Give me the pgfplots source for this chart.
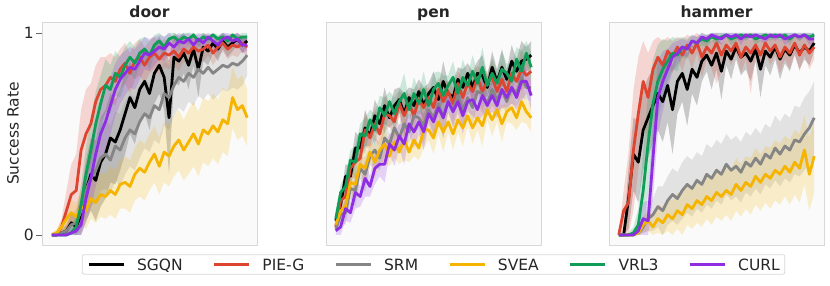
\documentclass[border=0pt]{standalone}
\usepackage{fontspec}
\setmainfont{DejaVu Sans}
\usepackage{pgfplots}
\pgfplotsset{compat=1.18}
\usepackage{pgfplotstable}
\usepgfplotslibrary{fillbetween}

\definecolor{cSGQN}{HTML}{000000}
\definecolor{cPIE}{HTML}{DE4530}
\definecolor{cSRM}{HTML}{858585}
\definecolor{cSVEA}{HTML}{F5B400}
\definecolor{cVRL}{HTML}{0F9D58}
\definecolor{cCURL}{HTML}{8E2DE2}
\definecolor{txt}{HTML}{262626}
\definecolor{frame}{HTML}{D8D8D8}
\definecolor{bg}{HTML}{FAFAFA}

\pgfplotstableread{
i a as b bs c cs d ds e es f fs
0 0.00 0.00 0.00 0.01 0.00 0.00 0.00 0.01 0.00 0.00 0.00 0.00
1 0.00 0.00 0.00 0.02 0.00 0.01 0.01 0.02 0.00 0.00 0.00 0.00
2 0.01 0.01 0.04 0.04 0.01 0.02 0.04 0.03 0.00 0.01 0.00 0.01
3 0.02 0.03 0.12 0.10 0.02 0.03 0.08 0.05 0.00 0.02 0.00 0.01
4 0.06 0.05 0.20 0.15 0.05 0.05 0.11 0.06 0.01 0.03 0.01 0.02
5 0.04 0.06 0.22 0.18 0.06 0.07 0.09 0.07 0.04 0.06 0.02 0.04
6 0.10 0.10 0.42 0.20 0.12 0.10 0.14 0.08 0.15 0.10 0.05 0.07
7 0.22 0.15 0.50 0.22 0.22 0.12 0.12 0.09 0.30 0.14 0.18 0.12
8 0.30 0.18 0.55 0.20 0.28 0.14 0.18 0.10 0.42 0.16 0.28 0.15
9 0.27 0.20 0.66 0.18 0.32 0.15 0.16 0.10 0.55 0.16 0.40 0.16
10 0.36 0.22 0.72 0.16 0.38 0.16 0.20 0.11 0.65 0.14 0.50 0.16
11 0.40 0.22 0.74 0.14 0.40 0.17 0.19 0.11 0.74 0.13 0.56 0.15
12 0.48 0.22 0.78 0.12 0.37 0.17 0.22 0.12 0.72 0.12 0.64 0.14
13 0.46 0.21 0.76 0.12 0.44 0.17 0.20 0.12 0.80 0.11 0.72 0.13
14 0.52 0.20 0.82 0.10 0.42 0.18 0.25 0.12 0.78 0.10 0.77 0.12
15 0.60 0.20 0.85 0.10 0.48 0.18 0.26 0.13 0.84 0.09 0.80 0.11
16 0.68 0.18 0.80 0.10 0.52 0.18 0.24 0.13 0.88 0.08 0.83 0.10
17 0.63 0.18 0.86 0.09 0.50 0.18 0.30 0.13 0.85 0.08 0.82 0.10
18 0.72 0.17 0.88 0.09 0.56 0.18 0.33 0.14 0.90 0.07 0.86 0.09
19 0.76 0.16 0.84 0.09 0.60 0.17 0.31 0.14 0.92 0.06 0.90 0.08
20 0.70 0.18 0.88 0.08 0.58 0.17 0.36 0.14 0.89 0.07 0.89 0.08
21 0.80 0.15 0.90 0.08 0.64 0.17 0.40 0.14 0.94 0.05 0.91 0.07
22 0.84 0.14 0.87 0.08 0.62 0.17 0.34 0.14 0.96 0.04 0.93 0.06
23 0.78 0.16 0.90 0.07 0.70 0.16 0.41 0.15 0.93 0.05 0.92 0.06
24 0.58 0.28 0.89 0.07 0.68 0.16 0.39 0.15 0.97 0.03 0.95 0.05
25 0.88 0.12 0.91 0.07 0.74 0.15 0.44 0.15 0.98 0.02 0.93 0.05
26 0.86 0.12 0.88 0.07 0.78 0.15 0.47 0.15 0.96 0.03 0.96 0.04
27 0.90 0.10 0.92 0.06 0.76 0.15 0.42 0.15 0.98 0.02 0.95 0.04
28 0.84 0.12 0.90 0.06 0.80 0.14 0.46 0.16 0.97 0.03 0.97 0.03
29 0.92 0.08 0.93 0.06 0.78 0.14 0.50 0.16 0.99 0.01 0.94 0.04
30 0.82 0.14 0.91 0.06 0.82 0.13 0.45 0.16 0.96 0.03 0.97 0.03
31 0.93 0.07 0.92 0.06 0.80 0.13 0.52 0.16 0.98 0.02 0.95 0.04
32 0.91 0.07 0.94 0.05 0.83 0.13 0.50 0.16 0.97 0.02 0.98 0.02
33 0.95 0.05 0.90 0.06 0.80 0.13 0.54 0.16 0.99 0.01 0.96 0.03
34 0.92 0.06 0.93 0.05 0.82 0.13 0.51 0.16 0.97 0.02 0.94 0.04
35 0.96 0.04 0.95 0.04 0.84 0.12 0.57 0.16 0.98 0.02 0.97 0.03
36 0.93 0.05 0.92 0.05 0.83 0.12 0.55 0.16 0.96 0.03 0.98 0.02
37 0.95 0.04 0.94 0.05 0.85 0.12 0.68 0.15 0.99 0.01 0.96 0.03
38 0.97 0.03 0.93 0.05 0.84 0.12 0.62 0.15 0.97 0.02 0.97 0.03
39 0.94 0.04 0.95 0.04 0.86 0.12 0.64 0.15 0.98 0.02 0.94 0.04
40 0.96 0.03 0.93 0.05 0.89 0.10 0.58 0.14 0.98 0.02 0.94 0.03
}\door

\pgfplotstableread{
i a b c d e f s
0 .07 .04 .03 .05 .08 .02 .02
1 .15 .17 .10 .12 .21 .04 .04
2 .29 .19 .11 .14 .24 .13 .06
3 .29 .33 .23 .26 .37 .11 .05
4 .43 .36 .22 .25 .36 .21 .08
5 .43 .38 .33 .35 .50 .19 .05
6 .53 .52 .30 .33 .49 .28 .09
7 .49 .48 .39 .41 .57 .24 .05
8 .59 .55 .42 .36 .52 .33 .08
9 .55 .50 .38 .42 .63 .35 .06
10 .64 .60 .48 .45 .59 .35 .09
11 .58 .59 .45 .39 .66 .45 .05
12 .64 .56 .53 .46 .60 .42 .08
13 .67 .65 .48 .41 .66 .49 .06
14 .60 .59 .55 .47 .70 .45 .10
15 .68 .65 .51 .41 .62 .55 .05
16 .64 .59 .59 .47 .70 .51 .08
17 .71 .67 .58 .43 .65 .56 .06
18 .64 .63 .54 .52 .72 .51 .09
19 .70 .68 .62 .52 .64 .60 .05
20 .73 .63 .58 .48 .72 .56 .08
21 .67 .72 .65 .56 .75 .63 .06
22 .76 .66 .58 .51 .69 .58 .10
23 .70 .71 .66 .56 .74 .66 .05
24 .68 .65 .62 .50 .78 .61 .08
25 .77 .75 .69 .57 .70 .66 .06
26 .73 .68 .62 .53 .78 .59 .09
27 .80 .75 .68 .59 .74 .66 .05
28 .73 .71 .63 .53 .81 .67 .08
29 .80 .78 .71 .58 .75 .62 .06
30 .79 .71 .70 .54 .83 .69 .10
31 .73 .76 .65 .62 .74 .64 .05
32 .83 .78 .72 .57 .80 .69 .08
33 .76 .71 .67 .62 .75 .64 .06
34 .83 .77 .72 .55 .82 .72 .09
35 .77 .71 .66 .61 .80 .68 .05
36 .86 .80 .73 .63 .76 .73 .08
37 .81 .76 .70 .58 .87 .68 .06
38 .86 .82 .78 .66 .81 .76 .10
39 .87 .79 .73 .61 .90 .76 .06
40 .89 .81 .73 .58 .83 .69 .07
}\pen

\pgfplotstableread{
i a as b bs c cs d ds e es f fs
0 .00 .00 .00 .00 .00 .00 .00 .00 .00 .00 .00 .00
1 .00 .02 .12 .10 .00 .00 .00 .00 .00 .00 .00 .00
2 .18 .15 .16 .25 .00 .00 .00 .00 .00 .01 .00 .00
3 .40 .18 .42 .30 .00 .01 .00 .01 .01 .03 .00 .01
4 .36 .20 .60 .28 .01 .02 .01 .02 .05 .08 .02 .03
5 .52 .20 .76 .20 .04 .03 .05 .04 .22 .20 .08 .08
6 .58 .20 .68 .22 .08 .06 .07 .05 .45 .25 .07 .10
7 .64 .18 .82 .14 .10 .08 .04 .06 .65 .22 .38 .20
8 .70 .18 .88 .10 .14 .10 .08 .07 .76 .18 .68 .18
9 .66 .20 .84 .12 .12 .12 .06 .08 .82 .15 .76 .15
10 .74 .18 .91 .07 .17 .12 .10 .08 .86 .10 .82 .10
11 .62 .22 .88 .08 .20 .13 .08 .09 .90 .08 .88 .07
12 .76 .16 .93 .05 .18 .13 .12 .09 .89 .08 .90 .06
13 .80 .14 .89 .08 .22 .14 .10 .10 .93 .05 .93 .04
14 .72 .18 .94 .05 .25 .14 .15 .10 .92 .05 .92 .04
15 .82 .12 .90 .08 .23 .14 .13 .10 .96 .03 .96 .03
16 .78 .14 .95 .05 .27 .14 .17 .11 .95 .03 .95 .03
17 .86 .10 .88 .10 .25 .14 .15 .11 .97 .03 .98 .02
18 .89 .08 .93 .06 .30 .15 .19 .11 .96 .03 .97 .02
19 .84 .12 .90 .08 .28 .15 .17 .12 .98 .02 .99 .01
20 .90 .08 .95 .20 .32 .15 .21 .12 .97 .03 .98 .02
21 .81 .14 .89 .08 .30 .15 .19 .12 .98 .02 .97 .03
22 .91 .07 .94 .05 .35 .15 .22 .12 .99 .01 .99 .01
23 .87 .10 .91 .07 .32 .15 .20 .13 .97 .03 .98 .02
24 .93 .06 .95 .05 .34 .15 .25 .13 .98 .02 .99 .01
25 .88 .09 .88 .08 .31 .15 .22 .13 .99 .01 .97 .03
26 .90 .08 .93 .06 .36 .15 .26 .13 .98 .02 .99 .01
27 .86 .10 .90 .20 .34 .15 .24 .14 .99 .01 .98 .02
28 .92 .06 .94 .05 .38 .15 .29 .14 .97 .03 .99 .01
29 .82 .14 .89 .08 .35 .15 .26 .14 .98 .02 .98 .02
30 .91 .07 .95 .05 .40 .15 .30 .14 .99 .01 .97 .03
31 .88 .09 .91 .07 .38 .15 .28 .15 .98 .02 .99 .01
32 .93 .06 .94 .05 .43 .16 .32 .15 .99 .01 .98 .02
33 .87 .10 .88 .08 .40 .16 .30 .15 .98 .02 .99 .01
34 .92 .07 .93 .06 .44 .16 .34 .15 .99 .01 .97 .03
35 .89 .08 .90 .08 .42 .16 .31 .16 .97 .03 .98 .02
36 .94 .05 .95 .05 .47 .17 .36 .16 .99 .01 .99 .01
37 .90 .08 .89 .08 .46 .17 .33 .17 .98 .02 .98 .02
38 .93 .06 .94 .05 .50 .18 .42 .17 .99 .01 .99 .01
39 .91 .07 .90 .08 .53 .18 .30 .18 .98 .02 .97 .03
40 .95 .04 .93 .06 .58 .18 .39 .18 .99 .01 .97 .03
}\hammer

% #1 table, #2 mean column, #3 spread column, #4 colour
\newcommand{\series}[4]{%
  \addplot[draw=none, forget plot, name path=U#2] table[x=i, y expr={min(1,\thisrow{#2}+\thisrow{#3})}] {#1};
  \addplot[draw=none, forget plot, name path=L#2] table[x=i, y expr={max(0,\thisrow{#2}-\thisrow{#3})}] {#1};
  \addplot[fill=#4, fill opacity=0.2, draw=none, forget plot] fill between[of=U#2 and L#2];
  \addplot[#4, line width=2.8pt, line join=round] table[x=i, y=#2] {#1};
}

\pgfplotsset{
  panel/.style={
    width=215pt, height=223pt, scale only axis,
    xmin=-2, xmax=42, ymin=-0.05, ymax=1.054,
    axis background/.style={fill=bg},
    axis line style={frame, line width=0.8pt},
    xtick=\empty, ytick=\empty,
    every axis title/.style={at={(0.5,1)}, anchor=base, yshift=4.8pt,
      font=\bfseries\fontsize{15.5}{18}\selectfont, text=txt},
    clip=true,
  },
}

\begin{document}
\begin{tikzpicture}
\begin{axis}[panel, at={(42pt,-22pt)}, anchor=north west,
  title={door},
  ytick={0,1}, ytick pos=left, tick align=outside,
  major tick length=6pt,
  ytick style={color=txt!70, line width=0.8pt},
  yticklabel style={font=\fontsize{15.5}{18}\selectfont, text=txt, inner xsep=2pt},
  /pgf/number format/assume math mode=true,
  ylabel={Success Rate},
  ylabel style={at={(axis description cs:-0.135,0.5)}, anchor=center, rotate=0,
    font=\fontsize{15.5}{18}\selectfont, text=txt},
  legend columns=6,
  legend style={at={(1.821,-0.087)}, anchor=center, draw=frame, fill=white,
    rounded corners=2pt, line width=0.8pt, inner xsep=5pt, inner ysep=4pt,
    font=\fontsize{15.5}{18}\selectfont, text=txt,
    nodes={inner sep=0pt, text depth=0pt},
    /tikz/every odd column/.append style={column sep=12pt},
    /tikz/every even column/.append style={column sep=30pt}},
  legend image code/.code={\draw[#1, line width=2.8pt] (0pt,0pt) -- (35pt,0pt);},
  legend entries={SGQN,PIE-G,SRM,SVEA,VRL3,CURL},
]
\series{\door}{a}{as}{cSGQN}
\series{\door}{b}{bs}{cPIE}
\series{\door}{c}{cs}{cSRM}
\series{\door}{d}{ds}{cSVEA}
\series{\door}{e}{es}{cVRL}
\series{\door}{f}{fs}{cCURL}
\end{axis}

\begin{axis}[panel, at={(326pt,-22pt)}, anchor=north west, title={pen}]
\series{\pen}{a}{s}{cSGQN}
\series{\pen}{b}{s}{cPIE}
\series{\pen}{c}{s}{cSRM}
\series{\pen}{d}{s}{cSVEA}
\series{\pen}{e}{s}{cVRL}
\series{\pen}{f}{s}{cCURL}
\end{axis}

\begin{axis}[panel, at={(609pt,-22pt)}, anchor=north west, title={hammer}]
\series{\hammer}{a}{as}{cSGQN}
\series{\hammer}{b}{bs}{cPIE}
\series{\hammer}{c}{cs}{cSRM}
\series{\hammer}{d}{ds}{cSVEA}
\series{\hammer}{e}{es}{cVRL}
\series{\hammer}{f}{fs}{cCURL}
\end{axis}

\pgfresetboundingbox
\path[use as bounding box] (0pt,0pt) rectangle (830pt,-285pt);
\end{tikzpicture}
\end{document}
